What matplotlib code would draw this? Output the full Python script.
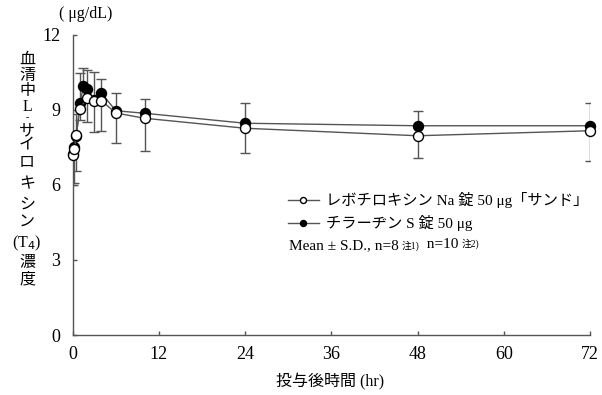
import numpy as np
import matplotlib.pyplot as plt

plt.rcParams['font.family'] = ['Liberation Serif', 'Noto Sans CJK JP']

# レボチロキシンNa錠50μg「サンド」 (open)
t_open = [0, 0.25, 0.5, 1, 2, 3, 4, 6, 10, 24, 48, 72]
m_open = [7.2, 7.45, 8.0, 9.05, 9.48, 9.37, 9.37, 8.88, 8.67, 8.27, 7.97, 8.17]
sd_open = [1.2, 1.35, 1.45, 0.45, 0.95, 1.25, 1.2, 1.2, 1.3, 1.0, 0.9, 1.2]

# チラーヂンS錠50μg (filled)
t_fill = [0, 0.25, 0.5, 1, 1.5, 2, 3, 4, 6, 10, 24, 48, 72]
m_fill = [7.25, 7.5, 7.95, 9.27, 9.95, 9.85, 9.4, 9.68, 8.97, 8.87, 8.47, 8.37, 8.37]
sd_fill = [0.5, 0.6, 0.9, 1.2, 0.72, 0.75, 1.13, 0.57, 0.7, 0.57, 0.8, 0.6, 0.9]

xticks = [0, 12, 24, 36, 48, 60, 72]
yticks = [0, 3, 6, 9, 12]
ylabel_chars = ['血', '清', '中', 'L', '-', 'サ', 'イ', 'ロ', 'キ', 'シ', 'ン', '(T$_4$)', '濃', '度']
ylabel_ypix = [60, 76, 91, 107, 118, 131, 146, 162, 184, 205, 223, 243, 262, 279]

W, H = 602, 395
fig = plt.figure(figsize=(W / 100, H / 100), dpi=100)
ax = fig.add_axes([72.7 / W, 1 - 335 / H, (590 - 72.7) / W, 300 / H])

ec = '#555555'
# 誤差棒: 実薬は上側、試験薬は下側
ax.errorbar(t_fill, m_fill, yerr=[np.zeros(len(sd_fill)), sd_fill], fmt='none',
            ecolor=ec, elinewidth=1, capsize=3.3, capthick=1, zorder=2)
ax.errorbar(t_open, m_open, yerr=[sd_open, np.zeros(len(sd_open))], fmt='none',
            ecolor=ec, elinewidth=1, capsize=3.3, capthick=1, zorder=2)

l2, = ax.plot(t_fill, m_fill, '-o', color=ec, lw=1, mfc='black', mec='black',
              ms=7.2, mew=1, zorder=3, clip_on=False)
l1, = ax.plot(t_open, m_open, '-o', color=ec, lw=1, mfc='white', mec='black',
              ms=7.2, mew=1, zorder=4, clip_on=False)

ax.set_xlim(0, 72)
ax.set_ylim(0, 12)
ax.set_xticks(xticks)
ax.set_yticks(yticks)
ax.spines['top'].set_visible(False)
ax.spines['right'].set_visible(False)
for s in ['left', 'bottom']:
    ax.spines[s].set_color('#555555')
    ax.spines[s].set_linewidth(1)
ax.tick_params(direction='in', length=3, width=1, color='#555555',
               labelsize=13, pad=8)
ax.tick_params(axis='y', pad=9)

# 凡例
leg = ax.legend([l1, l2], ['レボチロキシン Na 錠 50 μg「サンド」', 'チラーヂン S 錠 50 μg'],
                loc='upper left', bbox_to_anchor=(288 / W, 1 - 192 / H),
                bbox_transform=fig.transFigure, frameon=False, fontsize=11,
                handlelength=2.0, handletextpad=0.5, labelspacing=0.45,
                borderpad=0, borderaxespad=0, markerscale=0.6)

t1 = fig.text(289 / W, 1 - 246 / H, 'Mean ± S.D., n=8', fontsize=11, va='center')
a1 = ax.annotate('注1)', xy=(1, 1), xycoords=t1, xytext=(2, -0.5),
                 textcoords='offset points', fontsize=7, va='top')
t2 = ax.annotate('  n=10', xy=(1, 0), xycoords=a1, xytext=(0, 0),
                 textcoords='offset points', fontsize=11, va='bottom')
ax.annotate('注2)', xy=(1, 1), xycoords=t2, xytext=(2, -0.5),
            textcoords='offset points', fontsize=7, va='top')

# 軸ラベル
fig.text(86 / W, 1 - 14 / H, '( μg/dL)', fontsize=11.5, ha='center', va='center')
for ch, yp in zip(ylabel_chars, ylabel_ypix):
    fs = 7 if ch == '-' else 11.5
    fig.text(27 / W, 1 - yp / H, ch, fontsize=fs, ha='center', va='center')
fig.text(330 / W, 1 - 382 / H, '投与後時間 (hr)', fontsize=11.5, ha='center', va='center')

fig.savefig('out.png', dpi=100)
